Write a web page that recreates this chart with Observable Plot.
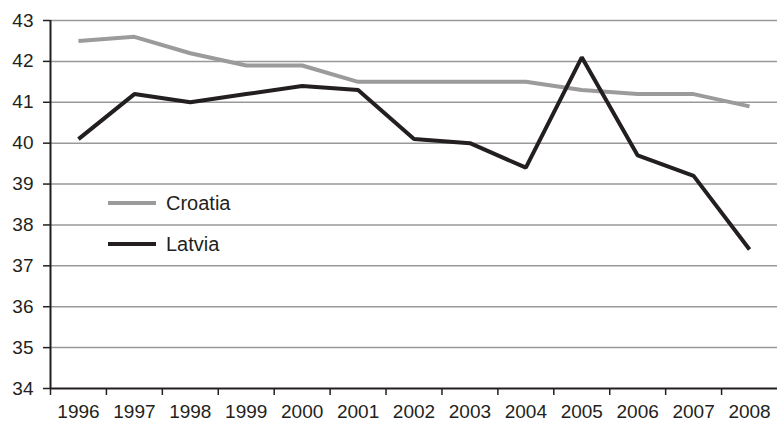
<!DOCTYPE html>
<html>
<head>
<meta charset="utf-8">
<script src="https://cdn.jsdelivr.net/npm/d3@7"></script>
<script src="https://cdn.jsdelivr.net/npm/@observablehq/plot@0.6"></script>
<style>
  html, body { margin: 0; padding: 0; background: #fff; overflow: hidden; }
  #chart { position: relative; width: 777px; height: 422px; }
  #chart svg { font-family: "Liberation Sans", Arial, Helvetica, sans-serif; }
</style>
</head>
<body>
<div id="chart"></div>
<script>
const years = [1996, 1997, 1998, 1999, 2000, 2001, 2002, 2003, 2004, 2005, 2006, 2007, 2008];
const croatia = [42.5, 42.6, 42.2, 41.9, 41.9, 41.5, 41.5, 41.5, 41.5, 41.3, 41.2, 41.2, 40.9];
const latvia = [40.1, 41.2, 41.0, 41.2, 41.4, 41.3, 40.1, 40.0, 39.4, 42.1, 39.7, 39.2, 37.4];
const yTicks = [34, 35, 36, 37, 38, 39, 40, 41, 42, 43];
const seriesNames = ["Croatia", "Latvia"];
const seriesColors = ["#9b9b9b", "#231f20"];

const rows = [];
years.forEach((yr, i) => {
  rows.push({year: yr, value: croatia[i], country: "Croatia"});
  rows.push({year: yr, value: latvia[i], country: "Latvia"});
});
const bandEdges = years.map(y => y - 0.5);

const plot = Plot.plot({
  width: 777,
  height: 422,
  marginLeft: 50,
  marginRight: 0,
  marginTop: 20,
  marginBottom: 34,
  style: {fontSize: "19px", fontFamily: "Liberation Sans, Arial, sans-serif", color: "#231f20", background: "#fff"},
  x: {domain: [years[0] - 0.5, years[years.length - 1] + 0.5]},
  y: {domain: [34, 43]},
  color: {domain: seriesNames, range: seriesColors},
  marks: [
    Plot.gridY(yTicks.filter(t => t > 34), {stroke: "#999", strokeOpacity: 1, strokeWidth: 1.5}),
    Plot.axisY(yTicks, {tickSize: 7, tickPadding: 10, tickFormat: d => String(d), stroke: "#231f20", strokeWidth: 1.5, fill: "#231f20", label: null}),
    Plot.axisX(bandEdges, {tickSize: 7, tickFormat: () => "", stroke: "#231f20", strokeWidth: 1.5, label: null}),
    Plot.axisX(years, {tickSize: 0, tickPadding: 16, tickFormat: d => String(d), fill: "#231f20", label: null}),
    Plot.ruleX([years[0] - 0.5], {y1: 34, y2: 43, stroke: "#231f20", strokeWidth: 2}),
    Plot.ruleY([34], {stroke: "#231f20", strokeWidth: 2}),
    Plot.line(rows, {x: "year", y: "value", z: "country", stroke: "country", strokeWidth: 4, strokeLinejoin: "miter", strokeLinecap: "butt"})
  ]
});

document.getElementById("chart").appendChild(plot);

// Legend inside plot area
const svg = d3.select(plot);
const lg = svg.append("g")
  .attr("font-family", "Liberation Sans, Arial, sans-serif")
  .attr("font-size", 20)
  .attr("text-anchor", "start");
seriesNames.forEach((name, i) => {
  const cy = 203 + i * 41;
  lg.append("line").attr("x1", 108).attr("x2", 156).attr("y1", cy).attr("y2", cy)
    .attr("stroke", seriesColors[i]).attr("stroke-width", 4);
  lg.append("text").attr("x", 166).attr("y", cy).attr("dy", "0.35em")
    .attr("fill", "#231f20").text(name);
});
</script>
</body>
</html>
